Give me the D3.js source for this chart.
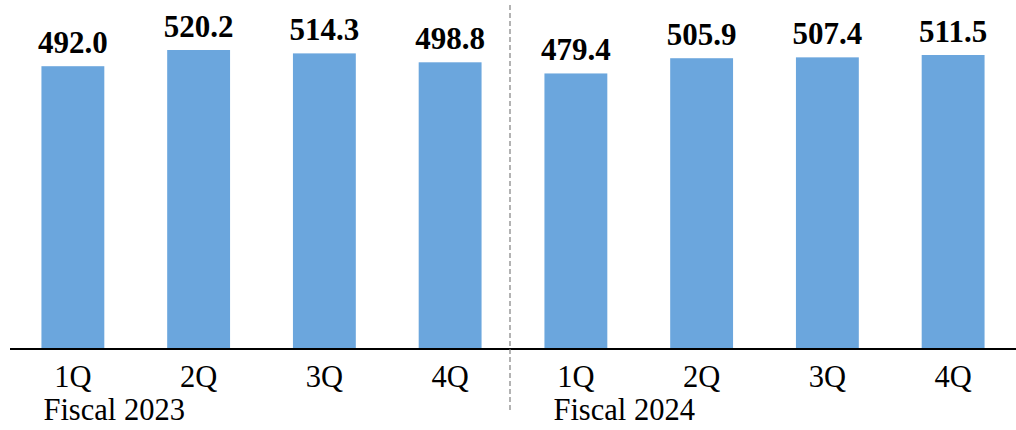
<!DOCTYPE html>
<html lang="en">
<head>
  <meta charset="UTF-8">
  <script src="https://d3js.org/d3.v7.min.js"></script>
  <style>
    body { margin: 0; background: #fff; }
    text { font-family: "Liberation Serif", "Times New Roman", serif; fill: #000; }
    .value { font-weight: bold; font-size: 31px; }
    .tick-label { font-size: 30.5px; }
    .year-label { font-size: 30.5px; }
  </style>
</head>
<body>
  <svg id="chart" width="1016" height="430"></svg>
  <script>
    // chart data
    var quarters = ["1Q", "2Q", "3Q", "4Q", "1Q", "2Q", "3Q", "4Q"];
    var values = [492.0, 520.2, 514.3, 498.8, 479.4, 505.9, 507.4, 511.5];
    var fiscalYears = ["Fiscal 2023", "Fiscal 2024"];

    var svg = d3.select("#chart"),
      width = +svg.attr("width"),
      height = +svg.attr("height");

    var baseY = 349;

    var x = d3.scaleBand()
      .domain(d3.range(values.length))
      .range([10, width])
      .paddingInner(0.5)
      .paddingOuter(0.25);

    var y = d3.scaleLinear()
      .domain([0, d3.max(values)])
      .range([baseY, 50]);

    // bars
    svg.selectAll("rect.bar")
      .data(values)
      .enter().append("rect")
      .attr("class", "bar")
      .attr("x", (d, i) => x(i))
      .attr("y", d => y(d))
      .attr("width", x.bandwidth())
      .attr("height", d => baseY - y(d))
      .attr("fill", "#6ba6dd");

    // value labels
    svg.selectAll("text.value")
      .data(values)
      .enter().append("text")
      .attr("class", "value")
      .attr("x", (d, i) => x(i) + x.bandwidth() / 2)
      .attr("y", d => y(d) - 13)
      .attr("text-anchor", "middle")
      .text(d => d3.format(".1f")(d));

    // axis line
    svg.append("line")
      .attr("x1", 10).attr("x2", width)
      .attr("y1", baseY).attr("y2", baseY)
      .attr("stroke", "#000")
      .attr("stroke-width", 2);

    // quarter labels
    svg.selectAll("text.tick-label")
      .data(quarters)
      .enter().append("text")
      .attr("class", "tick-label")
      .attr("x", (d, i) => x(i) + x.bandwidth() / 2)
      .attr("y", 387)
      .attr("text-anchor", "middle")
      .text(d => d);

    // fiscal year labels
    svg.selectAll("text.year-label")
      .data(fiscalYears)
      .enter().append("text")
      .attr("class", "year-label")
      .attr("x", (d, i) => x(i * 4) + (i === 0 ? 2 : 9))
      .attr("y", 420)
      .text(d => d);

    // dashed divider between the two fiscal years
    var divX = (x(3) + x.bandwidth() + x(4)) / 2 - 3;
    svg.append("line")
      .attr("x1", divX).attr("x2", divX)
      .attr("y1", 5).attr("y2", 411)
      .attr("stroke", "#808080")
      .attr("stroke-width", 1.2)
      .attr("stroke-dasharray", "5,3");
  </script>
</body>
</html>
